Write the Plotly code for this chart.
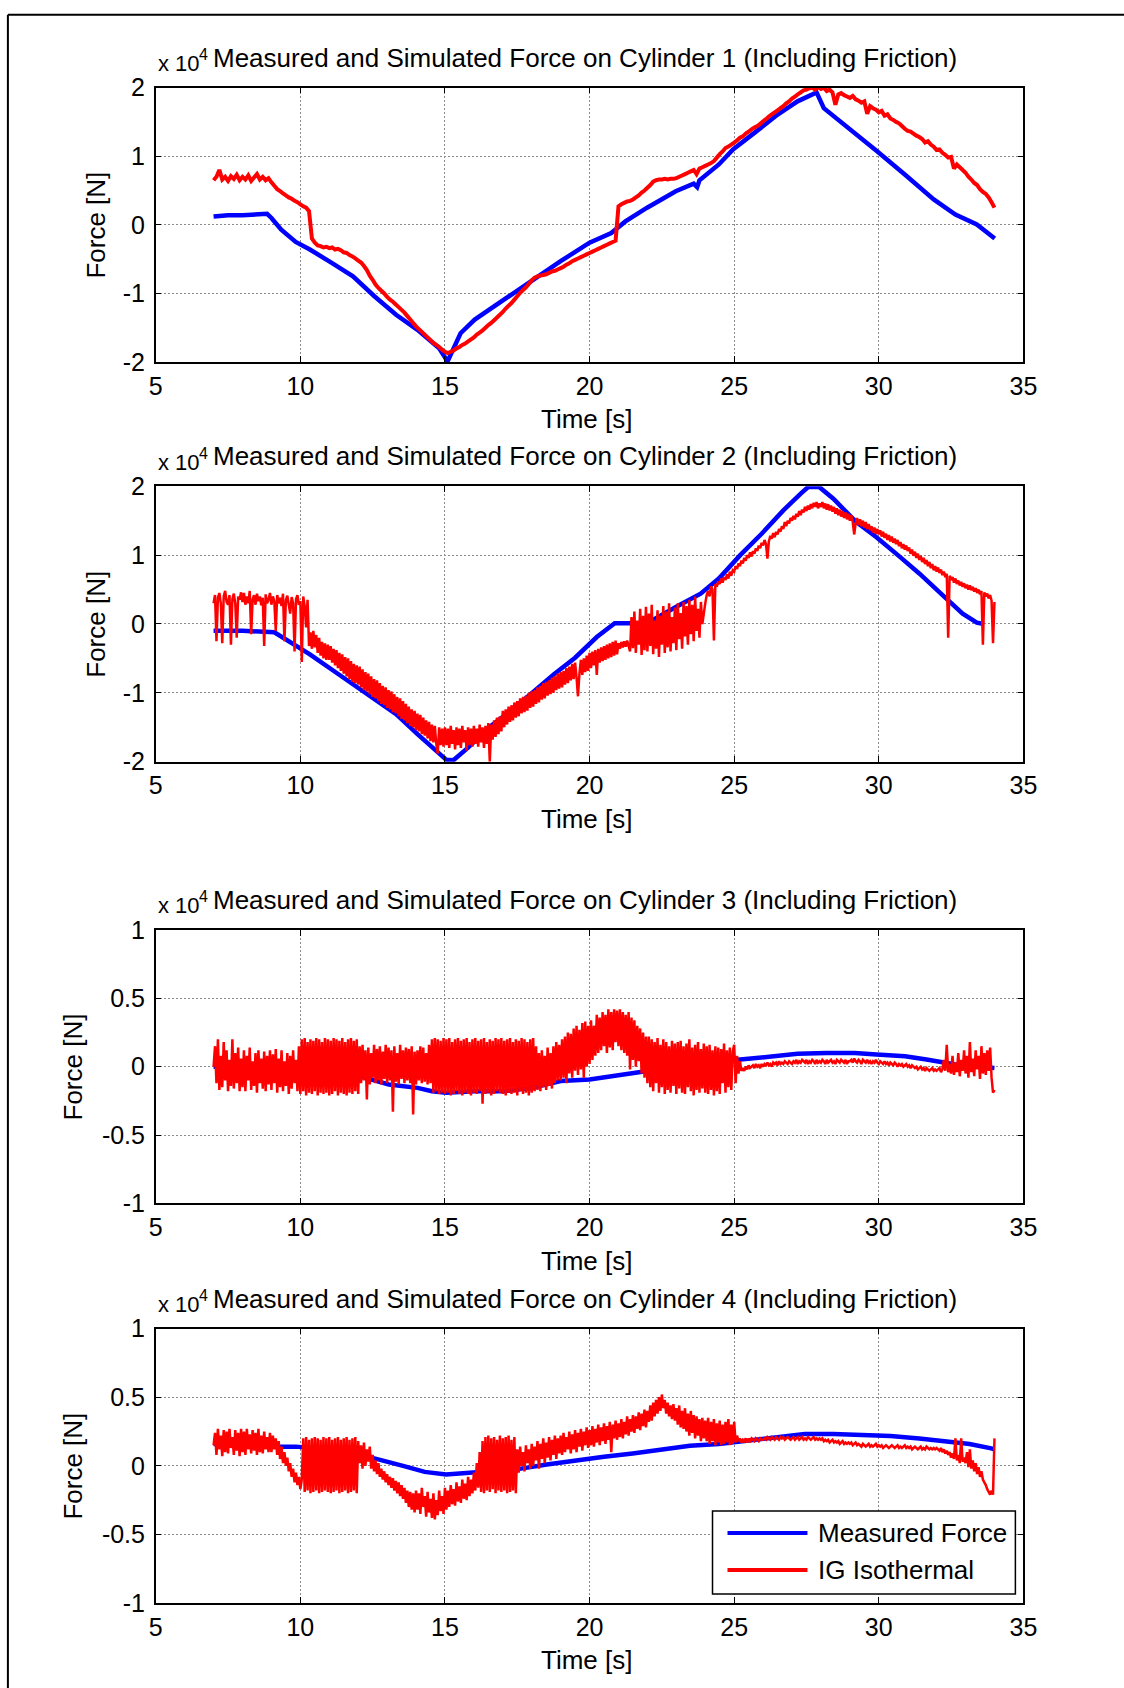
import plotly.graph_objects as go

# ---------------------------------------------------------------------------
# Data (forces in units of 1e4 N, as shown on the axes)
# ---------------------------------------------------------------------------
time_ticks = [5, 10, 15, 20, 25, 30, 35]
force_ticks_wide = [-2, -1, 0, 1, 2]
force_ticks_wide_text = ["-2", "-1", "0", "1", "2"]
force_ticks_narrow = [-1, -0.5, 0, 0.5, 1]
force_ticks_narrow_text = ["-1", "-0.5", "0", "0.5", "1"]

panel_titles = [
    "Measured and Simulated Force on Cylinder 1 (Including Friction)",
    "Measured and Simulated Force on Cylinder 2 (Including Friction)",
    "Measured and Simulated Force on Cylinder 3 (Including Friction)",
    "Measured and Simulated Force on Cylinder 4 (Including Friction)",
]
series_names = ["Measured Force", "IG Isothermal"]

# Measured force, cylinder 1
meas1_t = [7.0, 7.5, 8.0, 8.5, 8.85, 9.0, 9.34, 9.84, 10.33, 11.07, 11.82, 12.56,
           13.31, 14.05, 14.8, 15.09, 15.54, 16.03, 17.03, 18.02, 19.0, 20.0, 20.75,
           21.24, 21.99, 22.98, 23.6, 23.72, 23.8, 24.47, 24.96, 25.7, 26.45, 27.19,
           27.69, 27.85, 28.1, 28.93, 29.92, 30.91, 31.9, 32.65, 33.39, 34.01]
meas1_f = [0.12, 0.14, 0.14, 0.15, 0.16, 0.10, -0.07, -0.25, -0.36, -0.55, -0.75, -1.04,
           -1.31, -1.53, -1.80, -1.99, -1.58, -1.38, -1.09, -0.82, -0.53, -0.26, -0.12,
           0.05, 0.25, 0.49, 0.60, 0.55, 0.65, 0.88, 1.10, 1.34, 1.59, 1.80,
           1.90, 1.93, 1.70, 1.42, 1.08, 0.73, 0.37, 0.15, 0.005, -0.20]

# Measured force, cylinder 2
meas2_t = [7.0, 8.0, 9.1, 9.59, 10.33, 11.32, 12.31, 13.31, 14.05, 14.67, 15.04, 15.29,
           15.79, 16.53, 17.28, 18.02, 18.77, 19.5, 20.25, 20.87, 21.99, 23.0, 23.84,
           24.47, 25.21, 25.95, 26.7, 27.32, 27.56, 27.94, 28.43, 29.17, 29.92, 30.66,
           31.41, 32.15, 32.9, 33.39, 33.64]
meas2_f = [-0.10, -0.10, -0.12, -0.24, -0.44, -0.73, -1.02, -1.31, -1.60, -1.84, -1.97, -1.98,
           -1.80, -1.50, -1.26, -1.00, -0.73, -0.49, -0.19, 0.01, 0.01, 0.25, 0.44,
           0.66, 1.00, 1.31, 1.65, 1.90, 1.99, 1.99, 1.82, 1.50, 1.26, 1.00,
           0.73, 0.44, 0.15, 0.02, 0.00]

# Measured force, cylinder 3
meas3_t = [7.0, 8.0, 9.0, 10.0, 11.0, 12.07, 13.06, 14.05, 14.55, 15.04, 16.03, 17.03,
           18.02, 19.0, 20.0, 20.75, 21.5, 22.0, 23.0, 24.0, 25.21, 26.2, 27.19, 28.2,
           29.17, 29.92, 30.91, 31.65, 32.15, 32.65, 33.4, 34.0]
meas3_f = [0.00, 0.00, -0.01, -0.02, -0.04, -0.07, -0.13, -0.155, -0.18, -0.19, -0.18, -0.18,
           -0.155, -0.105, -0.094, -0.07, -0.045, -0.028, 0.00, 0.03, 0.052, 0.077, 0.094, 0.101,
           0.101, 0.089, 0.077, 0.052, 0.035, 0.016, 0.00, -0.01]

# Measured force, cylinder 4
meas4_t = [7.0, 8.0, 9.1, 9.84, 10.58, 11.57, 12.56, 13.55, 14.3, 15.04, 15.54, 16.53,
           17.52, 18.52, 19.5, 20.5, 21.49, 22.48, 23.47, 24.47, 25.46, 26.45, 27.44,
           28.43, 29.42, 30.41, 31.4, 32.4, 33.14, 33.89, 34.0]
meas4_f = [0.16, 0.15, 0.14, 0.14, 0.127, 0.09, 0.054, 0.00, -0.044, -0.063, -0.056, -0.044,
           -0.024, 0.01, 0.041, 0.066, 0.09, 0.115, 0.146, 0.159, 0.183, 0.212, 0.232,
           0.232, 0.224, 0.217, 0.20, 0.176, 0.159, 0.127, 0.12]

# Simulated (IG isothermal) force, uniformly sampled from t = 7.0 s
sim_t0 = 7.0

# cylinder 1: 0.1 s sample period
sim1_dt = 0.1
sim1_f = [
    0.65, 0.70, 0.80, 0.66, 0.70, 0.64, 0.71, 0.67, 0.73, 0.65,
    0.70, 0.66, 0.72, 0.64, 0.69, 0.74, 0.66, 0.70, 0.65, 0.68,
    0.62, 0.57, 0.52, 0.49, 0.46, 0.43, 0.40, 0.38, 0.35, 0.33,
    0.30, 0.27, 0.25, 0.20, -0.20, -0.26, -0.30, -0.31, -0.33, -0.32,
    -0.34, -0.33, -0.36, -0.35, -0.37, -0.40, -0.41, -0.44, -0.46, -0.49,
    -0.52, -0.55, -0.60, -0.66, -0.74, -0.80, -0.87, -0.92, -0.96, -1.00,
    -1.05, -1.09, -1.12, -1.16, -1.20, -1.24, -1.28, -1.33, -1.38, -1.43,
    -1.48, -1.52, -1.56, -1.60, -1.64, -1.68, -1.72, -1.75, -1.78, -1.82,
    -1.85, -1.87, -1.85, -1.83, -1.80, -1.78, -1.75, -1.73, -1.70, -1.67,
    -1.64, -1.60, -1.57, -1.54, -1.50, -1.46, -1.43, -1.39, -1.35, -1.31,
    -1.27, -1.22, -1.18, -1.14, -1.09, -1.04, -0.99, -0.95, -0.91, -0.86,
    -0.81, -0.77, -0.75, -0.74, -0.73, -0.72, -0.70, -0.68, -0.67, -0.65,
    -0.63, -0.61, -0.58, -0.56, -0.53, -0.51, -0.49, -0.47, -0.45, -0.43,
    -0.41, -0.39, -0.37, -0.35, -0.33, -0.31, -0.29, -0.27, -0.25, -0.23,
    0.27, 0.30, 0.32, 0.34, 0.35, 0.37, 0.40, 0.43, 0.47, 0.50,
    0.54, 0.58, 0.63, 0.65, 0.66, 0.66, 0.67, 0.66, 0.67, 0.67,
    0.68, 0.70, 0.72, 0.74, 0.76, 0.78, 0.80, 0.74, 0.82, 0.84,
    0.86, 0.88, 0.90, 0.93, 0.98, 1.03, 1.07, 1.12, 1.14, 1.17,
    1.20, 1.23, 1.27, 1.29, 1.33, 1.36, 1.39, 1.42, 1.44, 1.47,
    1.51, 1.54, 1.58, 1.61, 1.64, 1.67, 1.70, 1.73, 1.77, 1.80,
    1.84, 1.87, 1.90, 1.93, 1.96, 1.97, 1.99, 2.00, 1.97, 2.01,
    1.98, 2.00, 1.95, 1.97, 1.93, 1.75, 1.90, 1.92, 1.89, 1.87,
    1.85, 1.88, 1.83, 1.81, 1.78, 1.80, 1.62, 1.73, 1.70, 1.68,
    1.64, 1.66, 1.59, 1.61, 1.55, 1.53, 1.50, 1.48, 1.44, 1.40,
    1.37, 1.36, 1.33, 1.30, 1.28, 1.25, 1.20, 1.22, 1.17, 1.14,
    1.09, 1.10, 1.05, 1.02, 0.98, 0.99, 0.82, 0.88, 0.84, 0.80,
    0.76, 0.70, 0.66, 0.61, 0.58, 0.52, 0.48, 0.45, 0.40, 0.33,
    0.25,
]

# cylinders 2-4: 0.05 s sample period (one row per second)
sim_dense_dt = 0.05

sim2_f = [
    0.30, 0.42, -0.25, 0.38, 0.45, 0.30, -0.28, 0.40, 0.48, 0.32, 0.28, 0.42, -0.30, 0.36, 0.44, 0.30, -0.20, 0.40, 0.35, 0.46,
    0.32, 0.45, 0.28, 0.40, 0.30, 0.48, -0.15, 0.36, 0.42, 0.28, 0.44, 0.33, 0.40, 0.27, 0.38, -0.32, 0.43, 0.30, 0.35, 0.45,
    0.28, 0.40, 0.33, -0.10, 0.42, 0.30, 0.38, 0.26, 0.44, -0.25, 0.35, 0.41, 0.28, 0.15, 0.39, 0.30, -0.40, 0.36, 0.42, 0.28,
    0.33, -0.55, 0.40, 0.26, -0.05, 0.35, -0.32, -0.12, -0.36, -0.10, -0.34, -0.16, -0.42, -0.20, -0.46, -0.26, -0.50, -0.28, -0.52, -0.30,
    -0.52, -0.32, -0.56, -0.36, -0.60, -0.38, -0.64, -0.42, -0.68, -0.44, -0.72, -0.48, -0.76, -0.50, -0.80, -0.54, -0.84, -0.58, -0.86, -0.60,
    -0.88, -0.62, -0.92, -0.66, -0.96, -0.70, -0.98, -0.72, -1.02, -0.76, -1.06, -0.80, -1.08, -0.82, -1.12, -0.86, -1.16, -0.90, -1.18, -0.92,
    -1.22, -0.96, -1.24, -0.98, -1.28, -1.02, -1.30, -1.06, -1.34, -1.08, -1.38, -1.12, -1.40, -1.16, -1.44, -1.20, -1.48, -1.24, -1.50, -1.26,
    -1.54, -1.30, -1.56, -1.32, -1.60, -1.36, -1.62, -1.40, -1.66, -1.42, -1.70, -1.46, -1.72, -1.48, -1.74, -1.88, -1.50, -1.76, -1.52, -1.78,
    -1.50, -1.76, -1.52, -1.80, -1.48, -1.74, -1.54, -1.82, -1.50, -1.76, -1.52, -1.80, -1.48, -1.72, -1.54, -1.84, -1.50, -1.76, -1.52, -1.78,
    -1.48, -1.74, -1.52, -1.78, -1.46, -1.72, -1.50, -1.80, -1.48, -1.74, -1.44, -2.00, -1.46, -1.68, -1.40, -1.64, -1.36, -1.60, -1.34, -1.56,
    -1.26, -1.50, -1.24, -1.46, -1.20, -1.42, -1.18, -1.40, -1.14, -1.36, -1.12, -1.34, -1.08, -1.30, -1.06, -1.28, -1.04, -1.26, -1.00, -1.22,
    -0.98, -1.20, -0.96, -1.16, -0.92, -1.14, -0.90, -1.10, -0.86, -1.08, -0.84, -1.04, -0.82, -1.02, -0.78, -1.00, -0.76, -0.96, -0.72, -0.94,
    -0.70, -0.92, -0.68, -0.88, -0.64, -0.86, -0.62, -0.82, -0.58, -0.80, -0.56, -0.78, -1.05, -0.72, -0.52, -0.74, -0.50, -0.70, -0.46, -0.68,
    -0.42, -0.64, -0.40, -0.60, -0.38, -0.74, -0.36, -0.56, -0.34, -0.54, -0.32, -0.52, -0.30, -0.50, -0.28, -0.48, -0.26, -0.46, -0.24, -0.44,
    -0.28, -0.36, -0.26, -0.34, -0.25, -0.33, -0.24, -0.32, -0.40, 0.10, -0.35, 0.18, -0.42, 0.05, -0.30, 0.22, -0.45, 0.12, -0.38, 0.25,
    -0.40, 0.15, -0.32, 0.28, -0.44, 0.05, -0.36, 0.20, -0.48, 0.12, -0.30, 0.26, -0.42, 0.18, -0.34, 0.30, -0.40, 0.10, -0.28, 0.24,
    -0.38, 0.30, -0.22, 0.16, -0.36, 0.32, -0.18, 0.26, -0.30, 0.35, -0.15, 0.28, -0.25, 0.40, -0.10, 0.22, -0.20, 0.32, 0.00, 0.15,
    0.30, 0.42, 0.48, 0.40, 0.55, 0.50, -0.24, 0.58, 0.54, 0.62, 0.58, 0.66, 0.60, 0.68, 0.64, 0.72, 0.66, 0.76, 0.70, 0.78,
    0.76, 0.84, 0.80, 0.88, 0.84, 0.92, 0.88, 0.96, 0.92, 1.00, 0.96, 1.04, 0.98, 1.06, 1.02, 1.10, 1.06, 1.14, 1.10, 1.18,
    1.14, 1.22, 1.16, 0.95, 1.20, 1.28, 1.24, 1.32, 1.26, 1.34, 1.30, 1.38, 1.34, 1.42, 1.38, 1.48, 1.42, 1.50, 1.46, 1.54,
    1.50, 1.57, 1.52, 1.60, 1.56, 1.64, 1.58, 1.66, 1.62, 1.70, 1.64, 1.72, 1.66, 1.74, 1.68, 1.76, 1.70, 1.77, 1.68, 1.75,
    1.70, 1.77, 1.68, 1.75, 1.66, 1.74, 1.65, 1.72, 1.63, 1.70, 1.60, 1.68, 1.58, 1.66, 1.56, 1.64, 1.54, 1.62, 1.52, 1.60,
    1.50, 1.58, 1.48, 1.30, 1.46, 1.54, 1.44, 1.52, 1.42, 1.50, 1.40, 1.48, 1.38, 1.45, 1.36, 1.42, 1.33, 1.40, 1.31, 1.38,
    1.30, 1.36, 1.27, 1.34, 1.25, 1.31, 1.22, 1.29, 1.20, 1.27, 1.18, 1.24, 1.16, 1.22, 1.13, 1.19, 1.10, 1.16, 1.08, 1.14,
    1.06, 1.11, 1.02, 1.08, 0.99, 1.05, 0.96, 1.02, 0.93, 0.99, 0.90, 0.96, 0.87, 0.93, 0.84, 0.90, 0.81, 0.87, 0.78, 0.84,
    0.76, 0.82, 0.74, 0.79, 0.71, 0.76, 0.68, 0.73, -0.20, 0.70, 0.64, 0.68, 0.60, 0.66, 0.58, 0.63, 0.56, 0.61, 0.54, 0.59,
    0.52, 0.57, 0.50, 0.56, 0.49, 0.54, 0.47, 0.52, 0.45, 0.50, 0.43, 0.48, -0.30, 0.46, 0.40, 0.44, 0.37, 0.42, 0.34, -0.28,
    0.32,
]

sim3_f = [
    0.00, 0.15, -0.12, 0.20, -0.17, 0.08, -0.15, 0.18, -0.10, 0.12, -0.18, 0.05, -0.14, 0.20, -0.16, 0.10, -0.12, 0.14, -0.18, 0.06,
    -0.15, 0.12, -0.18, 0.08, -0.10, 0.14, -0.17, 0.04, -0.14, 0.10, -0.19, 0.12, -0.12, 0.06, -0.16, 0.11, -0.18, 0.08, -0.13, 0.12,
    -0.17, 0.09, -0.12, 0.13, -0.19, 0.06, -0.15, 0.12, -0.18, 0.04, -0.14, 0.10, -0.20, 0.08, -0.16, 0.12, -0.12, 0.05, -0.18, 0.15,
    -0.20, 0.20, -0.18, 0.21, -0.21, 0.18, -0.19, 0.20, -0.20, 0.19, -0.18, 0.21, -0.21, 0.20, -0.19, 0.18, -0.20, 0.21, -0.19, 0.20,
    -0.21, 0.19, -0.20, 0.21, -0.18, 0.20, -0.21, 0.19, -0.19, 0.21, -0.20, 0.18, -0.21, 0.20, -0.19, 0.21, -0.20, 0.19, -0.18, 0.20,
    -0.20, 0.15, -0.12, 0.16, -0.10, 0.12, -0.24, 0.14, -0.13, 0.10, -0.08, 0.16, -0.12, 0.13, -0.10, 0.15, -0.13, 0.11, -0.09, 0.16,
    -0.12, 0.14, -0.10, 0.12, -0.33, 0.15, -0.11, 0.10, -0.13, 0.16, -0.09, 0.12, -0.12, 0.14, -0.10, 0.13, -0.12, 0.15, -0.35, 0.11,
    -0.13, 0.12, -0.10, 0.15, -0.12, 0.14, -0.11, 0.10, -0.13, 0.16, -0.12, 0.20, -0.19, 0.21, -0.18, 0.20, -0.20, 0.19, -0.19, 0.21,
    -0.20, 0.20, -0.19, 0.21, -0.21, 0.18, -0.20, 0.20, -0.18, 0.21, -0.20, 0.19, -0.21, 0.20, -0.19, 0.21, -0.20, 0.18, -0.21, 0.20,
    -0.19, 0.21, -0.20, 0.19, -0.18, 0.20, -0.27, 0.21, -0.20, 0.18, -0.19, 0.20, -0.21, 0.19, -0.20, 0.21, -0.18, 0.20, -0.19, 0.21,
    -0.20, 0.19, -0.21, 0.20, -0.19, 0.21, -0.20, 0.18, -0.19, 0.20, -0.21, 0.19, -0.18, 0.21, -0.20, 0.20, -0.19, 0.18, -0.21, 0.20,
    -0.19, 0.21, -0.18, 0.15, -0.17, 0.10, -0.18, 0.12, -0.15, 0.08, -0.17, 0.14, -0.14, 0.10, -0.16, 0.15, -0.12, 0.18, -0.10, 0.16,
    -0.10, 0.20, -0.08, 0.22, -0.12, 0.25, -0.05, 0.24, -0.08, 0.28, -0.03, 0.30, -0.06, 0.27, -0.02, 0.32, -0.08, 0.33, 0.00, 0.30,
    0.02, 0.34, 0.05, 0.30, 0.08, 0.38, 0.10, 0.36, 0.12, 0.40, 0.15, 0.38, 0.10, 0.42, 0.14, 0.40, 0.12, 0.42, 0.18, 0.41,
    0.15, 0.42, 0.12, 0.40, 0.10, 0.38, 0.08, 0.40, -0.02, 0.36, 0.05, 0.34, 0.00, 0.30, 0.04, 0.28, -0.05, 0.25, -0.08, 0.22,
    -0.12, 0.22, -0.15, 0.20, -0.18, 0.18, -0.12, 0.21, -0.19, 0.16, -0.15, 0.20, -0.20, 0.18, -0.17, 0.15, -0.19, 0.19, -0.14, 0.17,
    -0.20, 0.18, -0.16, 0.19, -0.19, 0.15, -0.20, 0.17, -0.15, 0.20, -0.18, 0.14, -0.21, 0.16, -0.17, 0.18, -0.19, 0.13, -0.16, 0.17,
    -0.19, 0.15, -0.20, 0.16, -0.17, 0.12, -0.21, 0.15, -0.18, 0.14, -0.20, 0.13, -0.12, 0.17, -0.19, 0.12, -0.15, 0.14, -0.17, 0.11,
    0.16, -0.12, 0.08, -0.05, 0.04, -0.03, -0.01, -0.03, 0.00, -0.02, 0.01, -0.01, 0.00, 0.01, -0.01, 0.02, 0.00, 0.01, -0.01, 0.02,
    0.00, 0.02, 0.01, 0.03, 0.01, 0.02, 0.00, 0.03, 0.02, 0.03, 0.01, 0.04, 0.02, 0.03, 0.02, 0.04, 0.03, 0.02, 0.04, 0.03,
    0.02, 0.04, 0.03, 0.05, 0.02, 0.04, 0.03, 0.05, 0.04, 0.03, 0.05, 0.02, 0.04, 0.03, 0.05, 0.04, 0.02, 0.05, 0.03, 0.04,
    0.03, 0.05, 0.04, 0.02, 0.05, 0.03, 0.04, 0.05, 0.03, 0.04, 0.02, 0.05, 0.04, 0.03, 0.05, 0.04, 0.03, 0.05, 0.02, 0.04,
    0.04, 0.05, 0.03, 0.06, 0.04, 0.03, 0.05, 0.04, 0.02, 0.05, 0.04, 0.03, 0.05, 0.03, 0.04, 0.02, 0.04, 0.03, 0.05, 0.03,
    0.02, 0.04, 0.03, 0.02, 0.04, 0.02, 0.03, 0.01, 0.03, 0.02, 0.01, 0.03, 0.02, 0.00, 0.02, 0.01, 0.02, 0.00, 0.01, 0.02,
    0.00, 0.01, -0.01, 0.01, 0.00, -0.01, 0.00, -0.02, -0.01, 0.00, -0.02, -0.01, -0.03, -0.01, -0.02, -0.03, -0.02, -0.01, -0.03, -0.02,
    -0.03, -0.02, -0.01, -0.04, -0.02, 0.05, -0.03, 0.16, -0.04, 0.02, -0.05, 0.08, -0.06, 0.03, -0.04, 0.10, -0.07, 0.05, -0.03, 0.12,
    -0.05, 0.08, -0.08, 0.18, -0.04, 0.06, -0.07, 0.12, -0.02, 0.08, -0.09, 0.15, -0.05, 0.10, -0.06, 0.12, -0.03, 0.14, -0.08, -0.19,
    -0.17,
]

sim4_f = [
    0.15, 0.24, 0.08, 0.27, 0.12, 0.22, 0.07, 0.26, 0.10, 0.25, 0.09, 0.27, 0.13, 0.21, 0.08, 0.26, 0.11, 0.24, 0.07, 0.27,
    0.10, 0.25, 0.08, 0.27, 0.12, 0.23, 0.09, 0.26, 0.11, 0.24, 0.08, 0.27, 0.10, 0.22, 0.09, 0.25, 0.12, 0.21, 0.10, 0.24,
    0.10, 0.22, 0.12, 0.20, 0.08, 0.18, 0.05, 0.14, 0.02, 0.10, 0.00, 0.06, -0.04, 0.02, -0.08, -0.02, -0.12, -0.05, -0.14, -0.08,
    -0.17, -0.10, 0.20, -0.19, 0.21, -0.18, 0.19, -0.20, 0.20, -0.19, 0.21, -0.18, 0.20, -0.20, 0.19, -0.19, 0.21, -0.18, 0.20, -0.19,
    0.21, -0.20, 0.19, -0.19, 0.20, -0.18, 0.21, -0.20, 0.19, -0.19, 0.20, -0.18, 0.21, -0.20, 0.19, -0.19, 0.20, -0.18, 0.21, -0.20,
    0.18, 0.02, 0.15, -0.02, 0.17, 0.00, 0.12, 0.03, 0.14, -0.02, 0.08, -0.04, 0.04, -0.06, 0.02, -0.08, -0.02, -0.10, -0.04, -0.12,
    -0.06, -0.14, -0.08, -0.16, -0.09, -0.18, -0.11, -0.20, -0.12, -0.22, -0.14, -0.24, -0.16, -0.27, -0.18, -0.30, -0.19, -0.32, -0.20, -0.34,
    -0.18, -0.32, -0.20, -0.35, -0.16, -0.30, -0.22, -0.37, -0.19, -0.34, -0.24, -0.38, -0.20, -0.39, -0.25, -0.36, -0.18, -0.33, -0.22, -0.35,
    -0.16, -0.32, -0.18, -0.30, -0.14, -0.28, -0.17, -0.29, -0.12, -0.26, -0.15, -0.27, -0.10, -0.24, -0.13, -0.25, -0.08, -0.22, -0.10, -0.20,
    -0.05, -0.18, 0.02, -0.16, 0.10, -0.19, 0.18, -0.20, 0.21, -0.18, 0.22, -0.19, 0.20, -0.17, 0.21, -0.20, 0.19, -0.18, 0.22, -0.19,
    0.20, -0.18, 0.21, -0.20, 0.22, -0.19, 0.19, -0.18, 0.21, -0.20, 0.12, -0.05, 0.14, 0.00, 0.10, -0.04, 0.15, 0.02, 0.12, -0.02,
    0.16, 0.00, 0.14, 0.04, 0.18, -0.02, 0.16, 0.05, 0.20, 0.02, 0.17, 0.06, 0.21, 0.04, 0.19, 0.08, 0.22, 0.05, 0.20, 0.09,
    0.22, 0.08, 0.24, 0.10, 0.21, 0.12, 0.25, 0.09, 0.23, 0.12, 0.26, 0.10, 0.24, 0.14, 0.27, 0.11, 0.25, 0.15, 0.28, 0.13,
    0.26, 0.15, 0.29, 0.14, 0.27, 0.17, 0.30, 0.15, 0.28, 0.18, 0.31, 0.16, 0.29, 0.19, 0.32, 0.10, 0.30, 0.20, 0.33, 0.19,
    0.31, 0.21, 0.34, 0.20, 0.32, 0.23, 0.36, 0.22, 0.34, 0.25, 0.37, 0.24, 0.36, 0.27, 0.39, 0.26, 0.38, 0.29, 0.41, 0.28,
    0.40, 0.32, 0.44, 0.33, 0.46, 0.36, 0.48, 0.38, 0.50, 0.40, 0.52, 0.42, 0.48, 0.38, 0.46, 0.36, 0.44, 0.34, 0.45, 0.33,
    0.42, 0.30, 0.44, 0.28, 0.40, 0.27, 0.42, 0.25, 0.38, 0.22, 0.40, 0.24, 0.37, 0.20, 0.36, 0.22, 0.34, 0.18, 0.35, 0.20,
    0.33, 0.18, 0.35, 0.16, 0.32, 0.18, 0.34, 0.15, 0.31, 0.17, 0.33, 0.15, 0.30, 0.16, 0.32, 0.17, 0.34, 0.15, 0.30, 0.16,
    0.32, 0.17, 0.22, 0.18, 0.20, 0.17, 0.19, 0.18, 0.20, 0.17, 0.19, 0.18, 0.20, 0.19, 0.18, 0.20, 0.19, 0.18, 0.20, 0.19,
    0.19, 0.20, 0.19, 0.21, 0.20, 0.19, 0.21, 0.20, 0.19, 0.21, 0.20, 0.19, 0.21, 0.20, 0.21, 0.19, 0.20, 0.21, 0.20, 0.19,
    0.20, 0.21, 0.19, 0.20, 0.21, 0.19, 0.20, 0.21, 0.19, 0.20, 0.19, 0.21, 0.20, 0.19, 0.20, 0.21, 0.19, 0.20, 0.19, 0.20,
    0.19, 0.20, 0.18, 0.19, 0.18, 0.19, 0.17, 0.18, 0.19, 0.17, 0.18, 0.17, 0.18, 0.16, 0.17, 0.18, 0.16, 0.17, 0.16, 0.17,
    0.16, 0.17, 0.15, 0.16, 0.17, 0.15, 0.16, 0.15, 0.14, 0.16, 0.15, 0.14, 0.15, 0.16, 0.14, 0.15, 0.14, 0.15, 0.16, 0.14,
    0.15, 0.14, 0.15, 0.13, 0.14, 0.15, 0.14, 0.13, 0.14, 0.15, 0.14, 0.13, 0.14, 0.15, 0.13, 0.14, 0.13, 0.14, 0.15, 0.13,
    0.14, 0.13, 0.14, 0.12, 0.13, 0.14, 0.13, 0.12, 0.13, 0.14, 0.12, 0.13, 0.12, 0.14, 0.13, 0.12, 0.13, 0.12, 0.13, 0.12,
    0.13, 0.12, 0.11, 0.13, 0.10, 0.12, 0.09, 0.11, 0.08, 0.10, 0.06, 0.09, 0.05, 0.20, 0.04, 0.08, 0.02, 0.20, 0.03, 0.06,
    0.02, 0.10, -0.01, 0.12, -0.02, 0.04, -0.04, 0.02, -0.06, -0.01, -0.08, -0.04, -0.10, -0.12, -0.14, -0.17, -0.19, -0.21, -0.18, -0.21,
    0.20,
]

# ---------------------------------------------------------------------------
# Layout constants, in window pixels (1124 x 1688 window)
# ---------------------------------------------------------------------------
WIN_W, WIN_H = 1124, 1688
# where the figure's own pixel grid lands in the window: offset and zoom
FIG_OFFSET_X, FIG_OFFSET_Y, FIG_ZOOM = 5.2, 14.5, 0.982
FIG_W = int((WIN_W - FIG_OFFSET_X) / FIG_ZOOM) + 2
FIG_H = int((WIN_H - FIG_OFFSET_Y) / FIG_ZOOM) + 2

AX_LEFT, AX_RIGHT = 154, 1022
PANELS = [(88, 362), (486, 761), (929, 1202), (1327, 1601)]  # (top, bottom)
YLABEL_X = [94, 94, 71, 71]

FONT = "Liberation Sans, Arial, Helvetica, sans-serif"
BLUE = "#0000ff"
RED = "#ff0000"
GRID = "#8a8a8a"


def px(x):
    """window x (px) -> paper fraction"""
    return (x - FIG_OFFSET_X) / FIG_ZOOM / FIG_W


def py(y):
    """window y (px, from top) -> paper fraction"""
    return 1 - (y - FIG_OFFSET_Y) / FIG_ZOOM / FIG_H


def sample_times(values, dt):
    return [round(sim_t0 + i * dt, 3) for i in range(len(values))]


measured = [(meas1_t, meas1_f), (meas2_t, meas2_f), (meas3_t, meas3_f), (meas4_t, meas4_f)]
simulated = [(sim1_f, sim1_dt, 4), (sim2_f, sim_dense_dt, 2.5),
             (sim3_f, sim_dense_dt, 2.5), (sim4_f, sim_dense_dt, 2.5)]
y_ticks = [
    (force_ticks_wide, force_ticks_wide_text, [-2, 2]),
    (force_ticks_wide, force_ticks_wide_text, [-2, 2]),
    (force_ticks_narrow, force_ticks_narrow_text, [-1, 1]),
    (force_ticks_narrow, force_ticks_narrow_text, [-1, 1]),
]

fig = go.Figure()

axis_common = dict(
    showline=True, linecolor="black", linewidth=1.5, mirror="ticks",
    ticks="inside", ticklen=6, tickwidth=1.3, tickcolor="black",
    showgrid=True, gridcolor=GRID, gridwidth=1, griddash="2px,2px",
    zeroline=False,
    tickfont=dict(family=FONT, size=25, color="black"),
)

layout_axes = {}
annotations = []

for i in range(4):
    k = "" if i == 0 else str(i + 1)
    top, bottom = PANELS[i]
    xa, ya = "x" + k, "y" + k

    mt, mf = measured[i]
    fig.add_trace(go.Scatter(
        x=mt, y=mf, mode="lines", name=series_names[0],
        line=dict(color=BLUE, width=4.5), xaxis=xa, yaxis=ya, showlegend=False,
    ))
    sf, sdt, sw = simulated[i]
    fig.add_trace(go.Scatter(
        x=sample_times(sf, sdt), y=sf, mode="lines", name=series_names[1],
        line=dict(color=RED, width=sw, simplify=False), xaxis=xa, yaxis=ya,
        showlegend=False,
    ))

    yvals, ytext, yrange = y_ticks[i]
    layout_axes["xaxis" + k] = dict(
        axis_common, domain=[px(AX_LEFT), px(AX_RIGHT)], anchor=ya,
        range=[5, 35], tickvals=time_ticks, ticktext=[str(v) for v in time_ticks],
        ticklabelstandoff=1,
    )
    layout_axes["yaxis" + k] = dict(
        axis_common, domain=[py(bottom), py(top)], anchor=xa,
        range=yrange, tickvals=yvals, ticktext=ytext, ticklabelstandoff=4,
    )

    # panel title, exponent marker and axis labels
    annotations.append(dict(
        text=panel_titles[i], x=px(209), y=py(top - 30), xref="paper", yref="paper",
        xanchor="left", yanchor="middle", showarrow=False,
        font=dict(family=FONT, size=26, color="black"),
    ))
    annotations.append(dict(
        text="x 10", x=px(154), y=py(top - 24), xref="paper", yref="paper",
        xanchor="left", yanchor="middle", showarrow=False,
        font=dict(family=FONT, size=22, color="black"),
    ))
    annotations.append(dict(
        text="4", x=px(202), y=py(top - 33), xref="paper", yref="paper",
        xanchor="center", yanchor="middle", showarrow=False,
        font=dict(family=FONT, size=16, color="black"),
    ))
    annotations.append(dict(
        text="Time [s]", x=px(585), y=py(bottom + 57), xref="paper", yref="paper",
        xanchor="center", yanchor="middle", showarrow=False,
        font=dict(family=FONT, size=26, color="black"),
    ))
    annotations.append(dict(
        text="Force [N]", x=px(YLABEL_X[i]), y=py((top + bottom) / 2),
        xref="paper", yref="paper", xanchor="center", yanchor="middle",
        textangle=-90, showarrow=False,
        font=dict(family=FONT, size=26, color="black"),
    ))

# Legend box inside the fourth panel
LEG_X0, LEG_X1, LEG_Y0, LEG_Y1 = 711, 1014, 1509, 1592
LEG_LINE_X0, LEG_LINE_X1, LEG_TEXT_X = 726, 806, 815
LEG_ROWS = [1531, 1568]
legend_colors = [BLUE, RED]

shapes = [
    # outer frame (top and left edges; the others run off the window)
    dict(type="line", xref="paper", yref="paper",
         x0=0.0008, x1=1, y0=0.9995, y1=0.9995,
         line=dict(color="black", width=2), layer="above"),
    dict(type="line", xref="paper", yref="paper",
         x0=0.0008, x1=0.0008, y0=0, y1=0.9995,
         line=dict(color="black", width=2), layer="above"),
    dict(type="rect", xref="paper", yref="paper",
         x0=px(LEG_X0), x1=px(LEG_X1), y0=py(LEG_Y1), y1=py(LEG_Y0),
         line=dict(color="black", width=1.5), fillcolor="white", layer="above"),
]
for name, color, row_y in zip(series_names, legend_colors, LEG_ROWS):
    shapes.append(dict(
        type="line", xref="paper", yref="paper",
        x0=px(LEG_LINE_X0), x1=px(LEG_LINE_X1), y0=py(row_y), y1=py(row_y),
        line=dict(color=color, width=4), layer="above",
    ))
    annotations.append(dict(
        text=name, x=px(LEG_TEXT_X), y=py(row_y), xref="paper", yref="paper",
        xanchor="left", yanchor="middle", showarrow=False,
        font=dict(family=FONT, size=26, color="black"),
    ))

fig.update_layout(
    width=FIG_W, height=FIG_H,
    margin=dict(l=0, r=0, t=0, b=0),
    paper_bgcolor="white", plot_bgcolor="white",
    showlegend=False,
    annotations=annotations,
    shapes=shapes,
    font=dict(family=FONT, color="black"),
    **layout_axes,
)

fig.write_html("out.html")
